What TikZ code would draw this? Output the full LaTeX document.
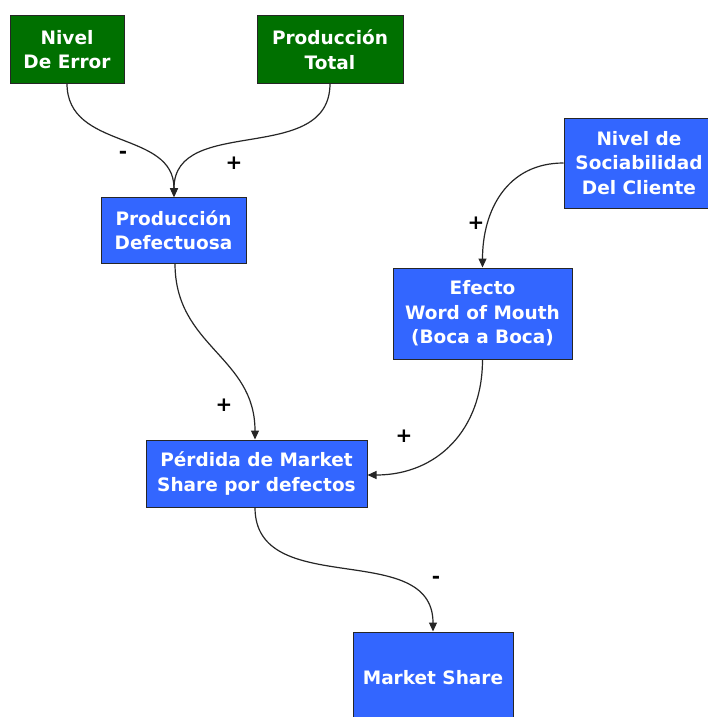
\documentclass[tikz,border=0pt]{standalone}
\usepackage{fontspec}
\setmainfont{DejaVu Sans}
\usetikzlibrary{arrows.meta}
\definecolor{boxgreen}{RGB}{0,112,0}
\definecolor{boxblue}{RGB}{51,102,255}
\tikzset{
  base/.style={draw=black!85, line width=1pt, text=white, align=center,
    font=\fontsize{18.5}{24.5}\selectfont\bfseries, inner sep=0pt},
  gbox/.style={base, fill=boxgreen},
  bbox/.style={base, fill=boxblue},
  link/.style={draw=black!85, line width=1.2pt, looseness=1.1, -{Triangle[length=9pt,width=8pt]}},
  sign/.style={font=\fontsize{20}{20}\selectfont\bfseries, text=black, inner sep=0pt}
}
\begin{document}
\begin{tikzpicture}[x=1pt,y=-1pt]
\useasboundingbox (0,0) rectangle (708,717);
\fill[white] (0,0) rectangle (708,717);
\node[gbox, minimum width=114pt, minimum height=67pt] (err) at (67,49.5) {Nivel\\De Error};
\node[gbox, minimum width=146pt, minimum height=67pt] (tot) at (330,49.5) {Producción\\Total};
\node[bbox, minimum width=145pt, minimum height=66pt] (def) at (173.5,230) {Producción\\Defectuosa};
\node[bbox, minimum width=150pt, minimum height=90pt] (soc) at (639,163) {Nivel de\\Sociabilidad\\Del Cliente};
\node[bbox, minimum width=179pt, minimum height=91pt] (wom) at (482.5,313.5) {Efecto\\Word of Mouth\\(Boca a Boca)};
\node[bbox, minimum width=221pt, minimum height=67pt] (per) at (256.5,473.5) {Pérdida de Market\\Share por defectos};
\node[bbox, minimum width=160pt, minimum height=92pt] (ms) at (433,678) {Market Share};

\coordinate (defin) at (174,197);
\draw[link] (err.south) to[out=-90,in=90] (defin);
\draw[link] (tot.south) to[out=-90,in=90] (defin);
\draw[link] ([xshift=1.5pt]def.south) to[out=-90,in=90] ([xshift=-1.5pt]per.north);
\draw[link] (soc.west) to[out=180,in=90] (wom.north);
\draw[link] (wom.south) to[out=-90,in=0] ([yshift=-1.5pt]per.east);
\draw[link] ([xshift=-1.5pt]per.south) to[out=-90,in=90] (ms.north);

\node[sign] (s1) at (123,155) {-};
\node[sign] (s2) at (234,163) {+};
\node[sign] (s3) at (476,223) {+};
\node[sign] (s4) at (224,405) {+};
\node[sign] (s5) at (404,436) {+};
\node[sign] (s6) at (436,580) {-};
\end{tikzpicture}
\end{document}
